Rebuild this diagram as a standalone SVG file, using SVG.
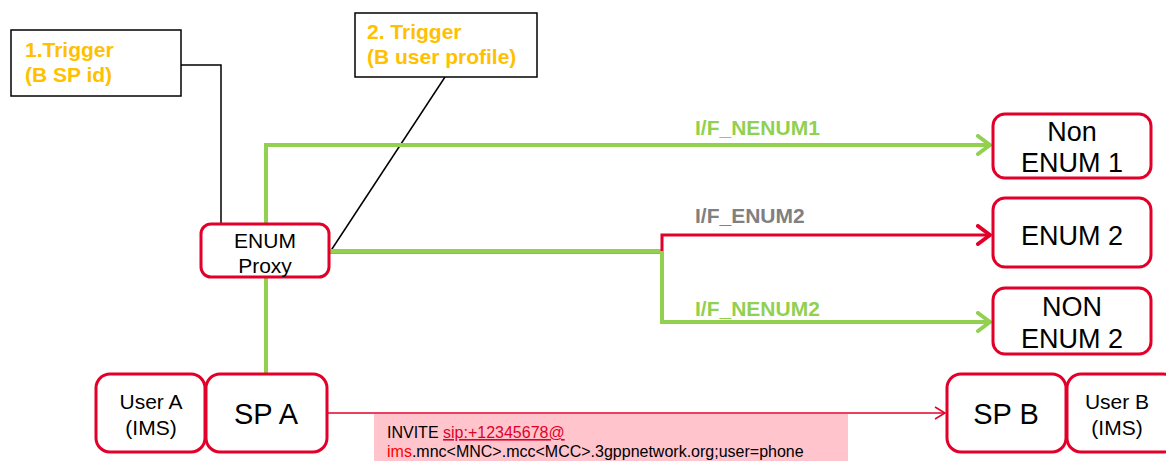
<svg xmlns="http://www.w3.org/2000/svg" width="1166" height="461" viewBox="0 0 1166 461">
<style>
.node{fill:#fff;stroke:#E2002A;stroke-width:3}
.tb{fill:#fff;stroke:#000;stroke-width:1.5}
.t{font-family:"Liberation Sans",Arial,sans-serif;fill:#000;text-anchor:middle}
.trig{font-family:"Liberation Sans",Arial,sans-serif;font-weight:bold;font-size:21px;fill:#FFC000}
.lbl{font-family:"Liberation Sans",Arial,sans-serif;font-weight:bold;font-size:21px}
.g{fill:none;stroke:#92D050;stroke-width:4}
.r{fill:none;stroke:#E2002A;stroke-width:3}
</style>
<defs>
<marker id="ag" markerWidth="16" markerHeight="22" refX="14" refY="11" markerUnits="userSpaceOnUse" orient="auto">
<path d="M2,2 L14,11 L2,20" fill="none" stroke="#92D050" stroke-width="4" stroke-linecap="round" stroke-linejoin="round"/>
</marker>
<marker id="ar" markerWidth="16" markerHeight="22" refX="14" refY="11" markerUnits="userSpaceOnUse" orient="auto">
<path d="M2,2 L14,11 L2,20" fill="none" stroke="#E2002A" stroke-width="4" stroke-linecap="round" stroke-linejoin="round"/>
</marker>
<marker id="ar2" markerWidth="14" markerHeight="16" refX="12" refY="8" markerUnits="userSpaceOnUse" orient="auto">
<path d="M2,2 L12,8 L2,14" fill="none" stroke="#E2002A" stroke-width="1.5"/>
</marker>
</defs>
<rect x="374" y="414" width="474" height="47" fill="#FFC4CC"/>
<g id="connectors">
<polyline points="181,65 221,65 221,225" fill="none" stroke="#000" stroke-width="1.5"/>
<line x1="445" y1="77" x2="330" y2="252" stroke="#000" stroke-width="1.5"/>
<polyline class="g" points="266,373 266,145 990,145" marker-end="url(#ag)"/>
<line x1="329" y1="253.5" x2="662" y2="253.5" stroke="#F08080" stroke-width="1"/>
<line class="g" x1="329" y1="251" x2="662" y2="251"/>
<polyline class="r" points="662,252 662,235 990,235" marker-end="url(#ar)"/>
<polyline class="g" points="662,251 662,322 990,322" marker-end="url(#ag)"/>
<line x1="328" y1="413" x2="945" y2="413" stroke="#E2002A" stroke-width="1.5" marker-end="url(#ar2)"/>
<text class="lbl" x="695" y="135" fill="#92D050">I/F_NENUM1</text>
<text class="lbl" x="695" y="223" fill="#808080">I/F_ENUM2</text>
<text class="lbl" x="695" y="316" fill="#92D050">I/F_NENUM2</text>
</g>
<g id="trigger1">
<rect class="tb" x="11" y="30" width="170" height="66"/>
<text class="trig" x="25" y="57">1.Trigger</text>
<text class="trig" x="25" y="82">(B SP id)</text>
</g>
<g id="trigger2">
<rect class="tb" x="355" y="13" width="182" height="64"/>
<text class="trig" x="367" y="39">2. Trigger</text>
<text class="trig" x="367" y="64">(B user profile)</text>
</g>
<g id="enumproxy">
<rect class="node" x="201" y="224" width="128" height="53" rx="10"/>
<text class="t" x="265" y="248" font-size="21">ENUM</text>
<text class="t" x="265" y="273" font-size="21">Proxy</text>
</g>
<g id="nonenum1">
<rect class="node" x="993" y="114" width="158" height="64" rx="12"/>
<text class="t" x="1072" y="141" font-size="27">Non</text>
<text class="t" x="1072" y="172" font-size="27">ENUM 1</text>
</g>
<g id="enum2">
<rect class="node" x="993" y="198" width="158" height="69" rx="12"/>
<text class="t" x="1072" y="245" font-size="27">ENUM 2</text>
</g>
<g id="nonenum2">
<rect class="node" x="993" y="288" width="158" height="66" rx="12"/>
<text class="t" x="1072" y="316" font-size="27">NON</text>
<text class="t" x="1072" y="348" font-size="27">ENUM 2</text>
</g>
<g id="usera">
<rect class="node" x="96" y="374" width="109" height="78" rx="14"/>
<text class="t" x="151" y="409" font-size="21">User A</text>
<text class="t" x="151" y="435" font-size="21">(IMS)</text>
</g>
<g id="spa">
<rect class="node" x="206" y="374" width="121" height="78" rx="14"/>
<text class="t" x="266" y="424" font-size="29">SP A</text>
</g>
<g id="spb">
<rect class="node" x="947" y="374" width="119" height="78" rx="14"/>
<text class="t" x="1006" y="424" font-size="29">SP B</text>
</g>
<g id="userb">
<rect class="node" x="1067" y="374" width="110" height="78" rx="14"/>
<text class="t" x="1117" y="409" font-size="21">User B</text>
<text class="t" x="1117" y="435" font-size="21">(IMS)</text>
</g>
<g id="invite" font-family="'Liberation Sans',Arial,sans-serif" font-size="16">
<text x="387" y="438" fill="#000">INVITE <tspan fill="#E2002A" text-decoration="underline">sip:+12345678@</tspan></text>
<text x="387" y="457" fill="#000"><tspan fill="#FF0000">ims</tspan>.mnc&lt;MNC&gt;.mcc&lt;MCC&gt;.3gppnetwork.org;user=phone</text>
</g>
</svg>
